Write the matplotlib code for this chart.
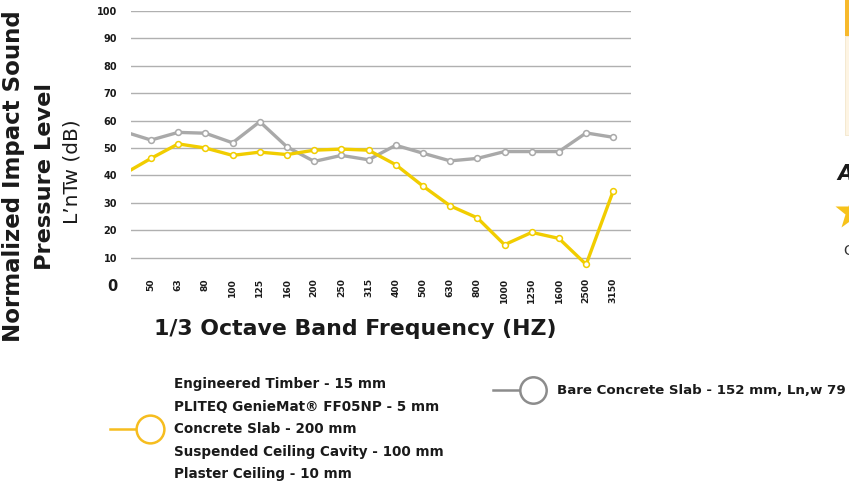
import matplotlib
matplotlib.use("Agg")
import matplotlib.pyplot as plt
from matplotlib.patches import Rectangle
from matplotlib.lines import Line2D

# ---------------- data ----------------
freq_labels = ["40", "50", "63", "80", "100", "125", "160", "200", "250", "315",
               "400", "500", "630", "800", "1000", "1250", "1600", "2500", "3150"]
bare_slab = [56.0, 52.9, 55.7, 55.4, 51.9, 59.6, 50.4, 45.1, 47.3, 45.7,
             51.0, 48.1, 45.3, 46.2, 48.7, 48.7, 48.7, 55.5, 53.9]
genie_mat = [40.5, 46.2, 51.5, 50.0, 47.3, 48.5, 47.6, 49.2, 49.6, 49.2,
             43.9, 36.1, 28.9, 24.5, 14.7, 19.2, 17.0, 7.5, 34.4]
y_ticks = [0, 10, 20, 30, 40, 50, 60, 70, 80, 90, 100]
legend_yellow = ["Engineered Timber - 15 mm",
                 "PLITEQ GenieMat\u00ae FF05NP - 5 mm",
                 "Concrete Slab - 200 mm",
                 "Suspended Ceiling Cavity - 100 mm",
                 "Plaster Ceiling - 10 mm"]
legend_gray = "Bare Concrete Slab - 152 mm, Ln,w 79"

YELLOW = "#f1cd00"
YELLOW_LEG = "#f6bd1f"
GRAY = "#a9a9a9"
GRAY_LEG = "#8c8c8c"
TXT = "#1a1a1a"
FONT = "DejaVu Sans"

W, H = 849, 486
fig = plt.figure(figsize=(W / 100, H / 100), dpi=100)
fig.patch.set_facecolor("white")

def fx(px):
    return px / W

def fy(py):
    return 1 - py / H

ax = fig.add_axes([fx(131), fy(285), fx(631) - fx(131), fy(11) - fy(285)])
x = list(range(len(freq_labels)))

for yv in y_ticks[1:]:
    ax.axhline(yv, color="#b0b0b0", lw=1.0, zorder=1)

ax.plot(x, bare_slab, color=GRAY, lw=2.4, marker="o", ms=4.2,
        mfc="white", mec=GRAY, mew=1.1, zorder=3)
ax.plot(x, genie_mat, color=YELLOW, lw=2.4, marker="o", ms=4.2,
        mfc="white", mec=YELLOW, mew=1.1, zorder=4)

ax.set_xlim(0.265, 18.65)
ax.set_ylim(0, 100)
for s in ax.spines.values():
    s.set_visible(False)

# first band lies left of the visible range: no tick label for it
ax.set_xticks(x[1:])
ax.set_xticklabels(freq_labels[1:], rotation=90, fontsize=6.6, fontweight="bold",
                   family=FONT, color=TXT)
ax.tick_params(axis="x", length=0, pad=-5)

ax.set_yticks(y_ticks)
ylabels = ax.set_yticklabels([str(v) for v in y_ticks], fontsize=7,
                             fontweight="bold", family=FONT, color=TXT)
ylabels[0].set_fontsize(10.5)
ax.tick_params(axis="y", length=0, pad=10)

# ---- axis titles ----
fig.text(fx(14), fy(176), "Normalized Impact Sound", rotation=90, ha="center",
         va="center", fontsize=16.5, fontweight="bold", family=FONT, color=TXT)
fig.text(fx(45.5), fy(176), "Pressure Level", rotation=90, ha="center",
         va="center", fontsize=16.2, fontweight="bold", family=FONT, color=TXT)
fig.text(fx(72.5), fy(172), "L\u2019nTw (dB)", rotation=90, ha="center",
         va="center", fontsize=14.5, fontweight="normal", family=FONT, color=TXT)
fig.text(fx(355), fy(329), "1/3 Octave Band Frequency (HZ)", ha="center",
         va="center", fontsize=15.8, fontweight="bold", family=FONT, color=TXT)

# ---- legend (yellow) ----
ys = [384, 406.5, 429, 451.5, 474]
for t, yy in zip(legend_yellow, ys):
    fig.text(fx(174), fy(yy), t, ha="left", va="center", fontsize=9.75,
             fontweight="bold", family=FONT, color=TXT)
fig.add_artist(Line2D([fx(110), fx(139)], [fy(429), fy(429)], color=YELLOW_LEG,
                      lw=1.8, transform=fig.transFigure))
fig.add_artist(Line2D([fx(150)], [fy(429)], marker="o", ms=20, mfc="white",
                      mec=YELLOW_LEG, mew=1.8, transform=fig.transFigure))

# ---- legend (gray) ----
fig.add_artist(Line2D([fx(493), fx(523)], [fy(390), fy(390)], color=GRAY_LEG,
                      lw=1.8, transform=fig.transFigure))
fig.add_artist(Line2D([fx(533)], [fy(390)], marker="o", ms=19, mfc="white",
                      mec=GRAY_LEG, mew=1.8, transform=fig.transFigure))
fig.text(fx(557), fy(390), legend_gray, ha="left", va="center", fontsize=9.65,
         fontweight="bold", family=FONT, color=TXT)

# ---- fragments of neighbouring panel at right edge ----
fig.add_artist(Rectangle((fx(845), fy(36)), fx(10), fy(0) - fy(36),
                         transform=fig.transFigure, color="#f7b92c", lw=0))
fig.add_artist(Rectangle((fx(845), fy(135)), fx(10), fy(36) - fy(135),
                         transform=fig.transFigure, facecolor="#fdf4e3",
                         edgecolor="#f3e6cc", lw=0.6))
fig.text(fx(837), fy(174), "A", ha="left", va="center", fontsize=15,
         fontweight="bold", style="italic", family=FONT, color=TXT)
fig.add_artist(Line2D([fx(852)], [fy(212)], marker="*", ms=26, color="#f7c21a",
                      mec="none", transform=fig.transFigure))
fig.text(fx(843), fy(251), "C", ha="left", va="center", fontsize=10,
         family=FONT, color="#333333")

fig.savefig("out.png", dpi=100, facecolor="white")
